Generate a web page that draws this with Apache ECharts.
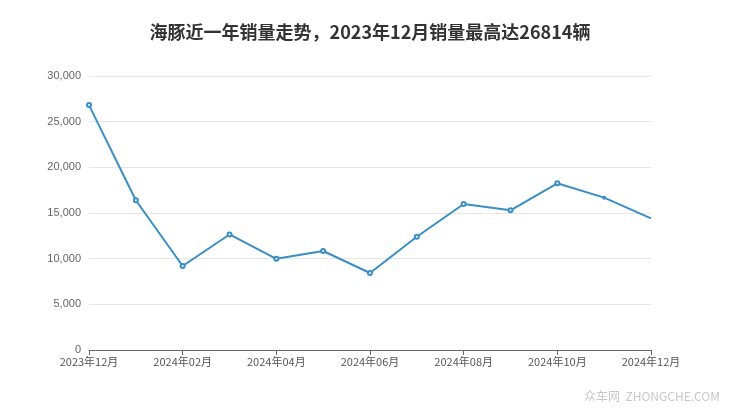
<!DOCTYPE html>
<html><head><meta charset="utf-8">
<script src="https://cdn.jsdelivr.net/npm/echarts@6/dist/echarts.min.js"></script>
<style>html,body{margin:0;padding:0;background:#fff}#c{width:740px;height:417px}</style>
</head><body><div id="c"></div>
<script>
const categories = ['2023年12月','2024年01月','2024年02月','2024年03月','2024年04月','2024年05月','2024年06月','2024年07月','2024年08月','2024年09月','2024年10月','2024年11月','2024年12月'];
const sales = [26814, 16400, 9200, 12650, 9980, 10840, 8430, 12400, 15990, 15300, 18250, 16680, 14420];
const titleText = '海豚近一年销量走势，2023年12月销量最高达26814辆';
const watermark = '众车网  ZHONGCHE.COM';

const chart = echarts.init(document.getElementById('c'), null, {renderer: 'canvas'});
const data = sales.map((v, i) => {
  if (i === sales.length - 1) return {value: v, symbol: 'none'};
  if (i === sales.length - 2) return {value: v, symbolSize: 2};
  return v;
});
chart.setOption({
  animation: false,
  backgroundColor: '#fff',
  title: {
    text: titleText, left: 'center', top: 18,
    textStyle: {fontSize: 18, fontWeight: 'bold', color: '#333', fontFamily: '"Noto Sans CJK SC", sans-serif'}
  },
  grid: {left: 89, right: 89, top: 76, bottom: 67},
  xAxis: {
    type: 'category', data: categories, boundaryGap: false,
    axisLine: {lineStyle: {color: '#666'}},
    axisTick: {interval: 1, lineStyle: {color: '#666'}},
    axisLabel: {interval: 1, color: '#555', fontSize: 11, margin: 6, fontFamily: '"Noto Sans CJK SC", sans-serif'}
  },
  yAxis: {
    type: 'value', min: 0, max: 30000, interval: 5000,
    axisLine: {show: false}, axisTick: {show: false},
    axisLabel: {color: '#666', fontSize: 11, margin: 8, formatter: v => v.toLocaleString('en-US')},
    splitLine: {lineStyle: {color: '#e6e6e6'}}
  },
  series: [{
    type: 'line', data: data,
    symbol: 'emptyCircle', symbolSize: 4, showAllSymbol: true,
    lineStyle: {color: '#3a8ec6', width: 2},
    itemStyle: {color: '#3a8ec6', borderWidth: 1.5}
  }],
  graphic: [{
    type: 'text', right: 20, top: 390,
    style: {text: watermark, fill: '#c8c8c8', fontSize: 12, fontFamily: '"Noto Sans CJK SC", sans-serif'}
  }]
});
</script></body></html>
